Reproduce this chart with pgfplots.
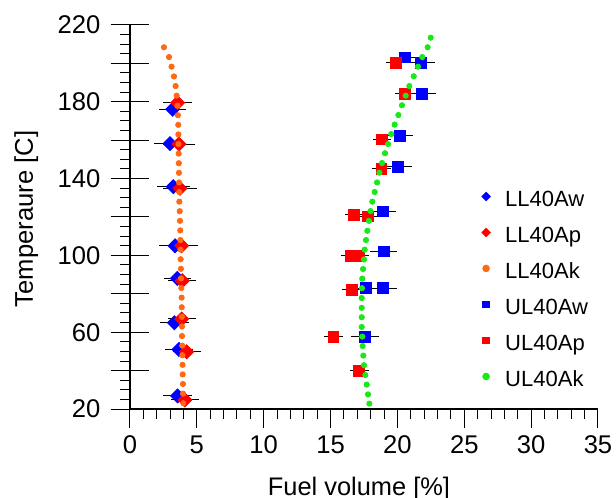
\documentclass[border=0pt]{standalone}
\usepackage{fontspec}
\setmainfont{Liberation Sans}
\usepackage{pgfplots}
\pgfplotsset{compat=1.18}

\definecolor{cblue}{RGB}{0,0,255}
\definecolor{cred}{RGB}{255,0,0}
\definecolor{corange}{RGB}{255,105,20}
\definecolor{cgreen}{RGB}{25,232,25}

\pgfplotsset{
  dotleg/.style={only marks, legend image code/.code={\draw[##1] plot coordinates {(0pt,0pt)};}},
  hbars/.style={error bars/.cd, x dir=both, x explicit, error mark=none,
    error bar style={black, line width=0.5pt}},
}

\begin{document}
\begin{tikzpicture}
\begin{axis}[
  name=ax,
  x=6.6857pt, y=0.96pt,
  xmin=0, xmax=35, ymin=20, ymax=220,
  axis x line=bottom, axis y line=left,
  axis line style={-, line width=0.6pt},
  xtick={0,5,...,35}, minor x tick num=4,
  ytick={20,40,...,220}, yticklabels={20,,60,,100,,140,,180,,220},
  minor y tick num=3,
  tick align=outside, major tick length=9.7pt, minor tick length=5pt,
  extra y ticks={20,40,...,220}, extra y tick labels={},
  extra y tick style={tick align=inside},
  tick style={black, line width=0.5pt},
  /pgf/number format/assume math mode=true,
  tick label style={font=\fontsize{12.8}{15}\selectfont},
  yticklabel style={xshift=-1.6pt},
  xlabel={Fuel volume [\%]},
  ylabel={Temperaure [C]},
  every axis x label/.style={at={([xshift=-2.5pt,yshift=-43.3pt]axis description cs:0.5,0)},
    anchor=base, font=\fontsize{12.7}{15}\selectfont},
  every axis y label/.style={at={([xshift=-48.6pt,yshift=-1pt]axis description cs:0,0.5)},
    rotate=90, anchor=base, font=\fontsize{12.8}{15}\selectfont},
  legend cell align=left,
  legend style={draw=none, fill=none, inner sep=0pt, anchor=north west,
    at={(axis cs:26.29,138.2)}, row sep=4pt,
    /tikz/every odd column/.append style={column sep=5.5pt},
    font=\fontsize{11}{13}\selectfont,
    nodes={inner sep=2pt, text height=10pt, text depth=0pt}},
]

\addlegendimage{dotleg, mark=square*, mark options={rotate=45}, color=cblue, mark size=1.47pt}
\addlegendimage{dotleg, mark=square*, mark options={rotate=45}, color=cred, mark size=1.47pt}
\addlegendimage{dotleg, mark=*, color=corange, mark size=1.67pt}
\addlegendimage{dotleg, mark=square*, color=cblue, mark size=1.67pt}
\addlegendimage{dotleg, mark=square*, color=cred, mark size=1.67pt}
\addlegendimage{dotleg, mark=*, color=cgreen, mark size=1.67pt}
\legend{LL40Aw, LL40Ap, LL40Ak, UL40Aw, UL40Ap, UL40Ak}

% LL40Aw
\addplot[forget plot, only marks, mark=square*, mark options={rotate=45}, color=cblue,
  mark size=2.47pt, hbars] table[x=x, y=y, x error=ex] {
x y ex
3.19 176.1 1.02
2.99 158.2 1.20
3.24 135.8 1.25
3.37 105.0 1.20
3.54 88.0 1.02
3.32 64.9 1.06
3.66 51.0 1.06
3.56 26.8 1.06
};
% LL40Ap
\addplot[forget plot, only marks, mark=square*, mark options={rotate=45}, color=cred,
  mark size=2.47pt, hbars] table[x=x, y=y, x error=ex] {
x y ex
3.56 179.5 1.06
3.66 158.0 1.20
3.74 134.9 1.25
3.86 105.0 1.20
3.91 86.8 1.05
3.86 66.9 1.04
4.24 49.8 1.04
4.11 24.7 1.04
};
% LL40Ak
\addplot[forget plot, only marks, mark=*, color=corange, mark size=1.33pt] table {
x y
2.54 208.4
2.92 203.3
3.11 198.3
3.29 193.2
3.41 188.2
3.49 183.2
3.55 178.0
3.58 173.0
3.61 168.0
3.62 163.0
3.63 158.0
3.64 153.0
3.65 148.0
3.66 143.0
3.67 138.0
3.68 133.0
3.69 128.0
3.72 123.0
3.74 118.0
3.76 113.0
3.77 108.0
3.78 103.0
3.79 98.0
3.81 93.0
3.82 88.0
3.84 83.0
3.86 78.0
3.87 73.0
3.88 68.0
3.89 63.0
3.89 58.0
3.91 53.0
3.92 48.0
3.93 43.0
3.94 38.0
3.96 33.0
3.97 28.0
3.99 23.0
};
% UL40Aw
\addplot[forget plot, only marks, mark=square*, color=cblue,
  mark size=2.67pt, hbars] table[x=x, y=y, x error=ex] {
x y ex
20.54 203.1 1.05
21.74 200.4 1.05
21.81 184.2 1.05
20.17 162.2 1.02
20.02 146.2 1.05
18.92 122.9 1.00
18.97 102.0 1.03
17.65 82.9 1.00
18.90 82.9 1.05
17.58 57.7 1.05
};
% UL40Ap
\addplot[forget plot, only marks, mark=square*, color=cred,
  mark size=2.67pt, hbars] table[x=x, y=y, x error=ex] {
x y ex
19.91 200.4 0.75
20.54 184.2 0.72
18.85 160.4 0.70
18.80 145.2 0.71
16.75 121.1 0.70
17.77 120.3 0.70
16.50 99.9 0.72
17.13 99.9 0.72
16.58 82.0 0.70
15.21 57.7 0.70
17.13 39.8 0.71
};
% UL40Ak
\addplot[forget plot, only marks, mark=*, color=cgreen, mark size=1.33pt] table {
x y
22.49 213.4
22.26 208.4
21.86 203.3
21.54 198.3
21.22 193.3
20.89 188.2
20.62 183.2
20.34 178.2
20.07 173.1
19.79 168.1
19.54 163.2
19.30 158.0
19.07 153.2
18.85 148.1
18.65 143.1
18.48 138.0
18.30 133.0
18.12 128.0
17.99 123.1
17.87 118.0
17.75 112.8
17.65 108.0
17.55 103.0
17.50 97.9
17.43 92.9
17.37 87.9
17.35 82.9
17.33 77.8
17.33 72.7
17.33 67.8
17.33 62.7
17.37 57.7
17.40 52.8
17.45 47.8
17.50 42.8
17.60 37.7
17.70 32.7
17.80 27.6
17.90 22.8
};
\end{axis}
\pgfresetboundingbox
\path ([shift={(-65pt,-44.5pt)}]ax.south west) rectangle ([shift={(243pt,204.5pt)}]ax.south west);
\end{tikzpicture}
\end{document}
